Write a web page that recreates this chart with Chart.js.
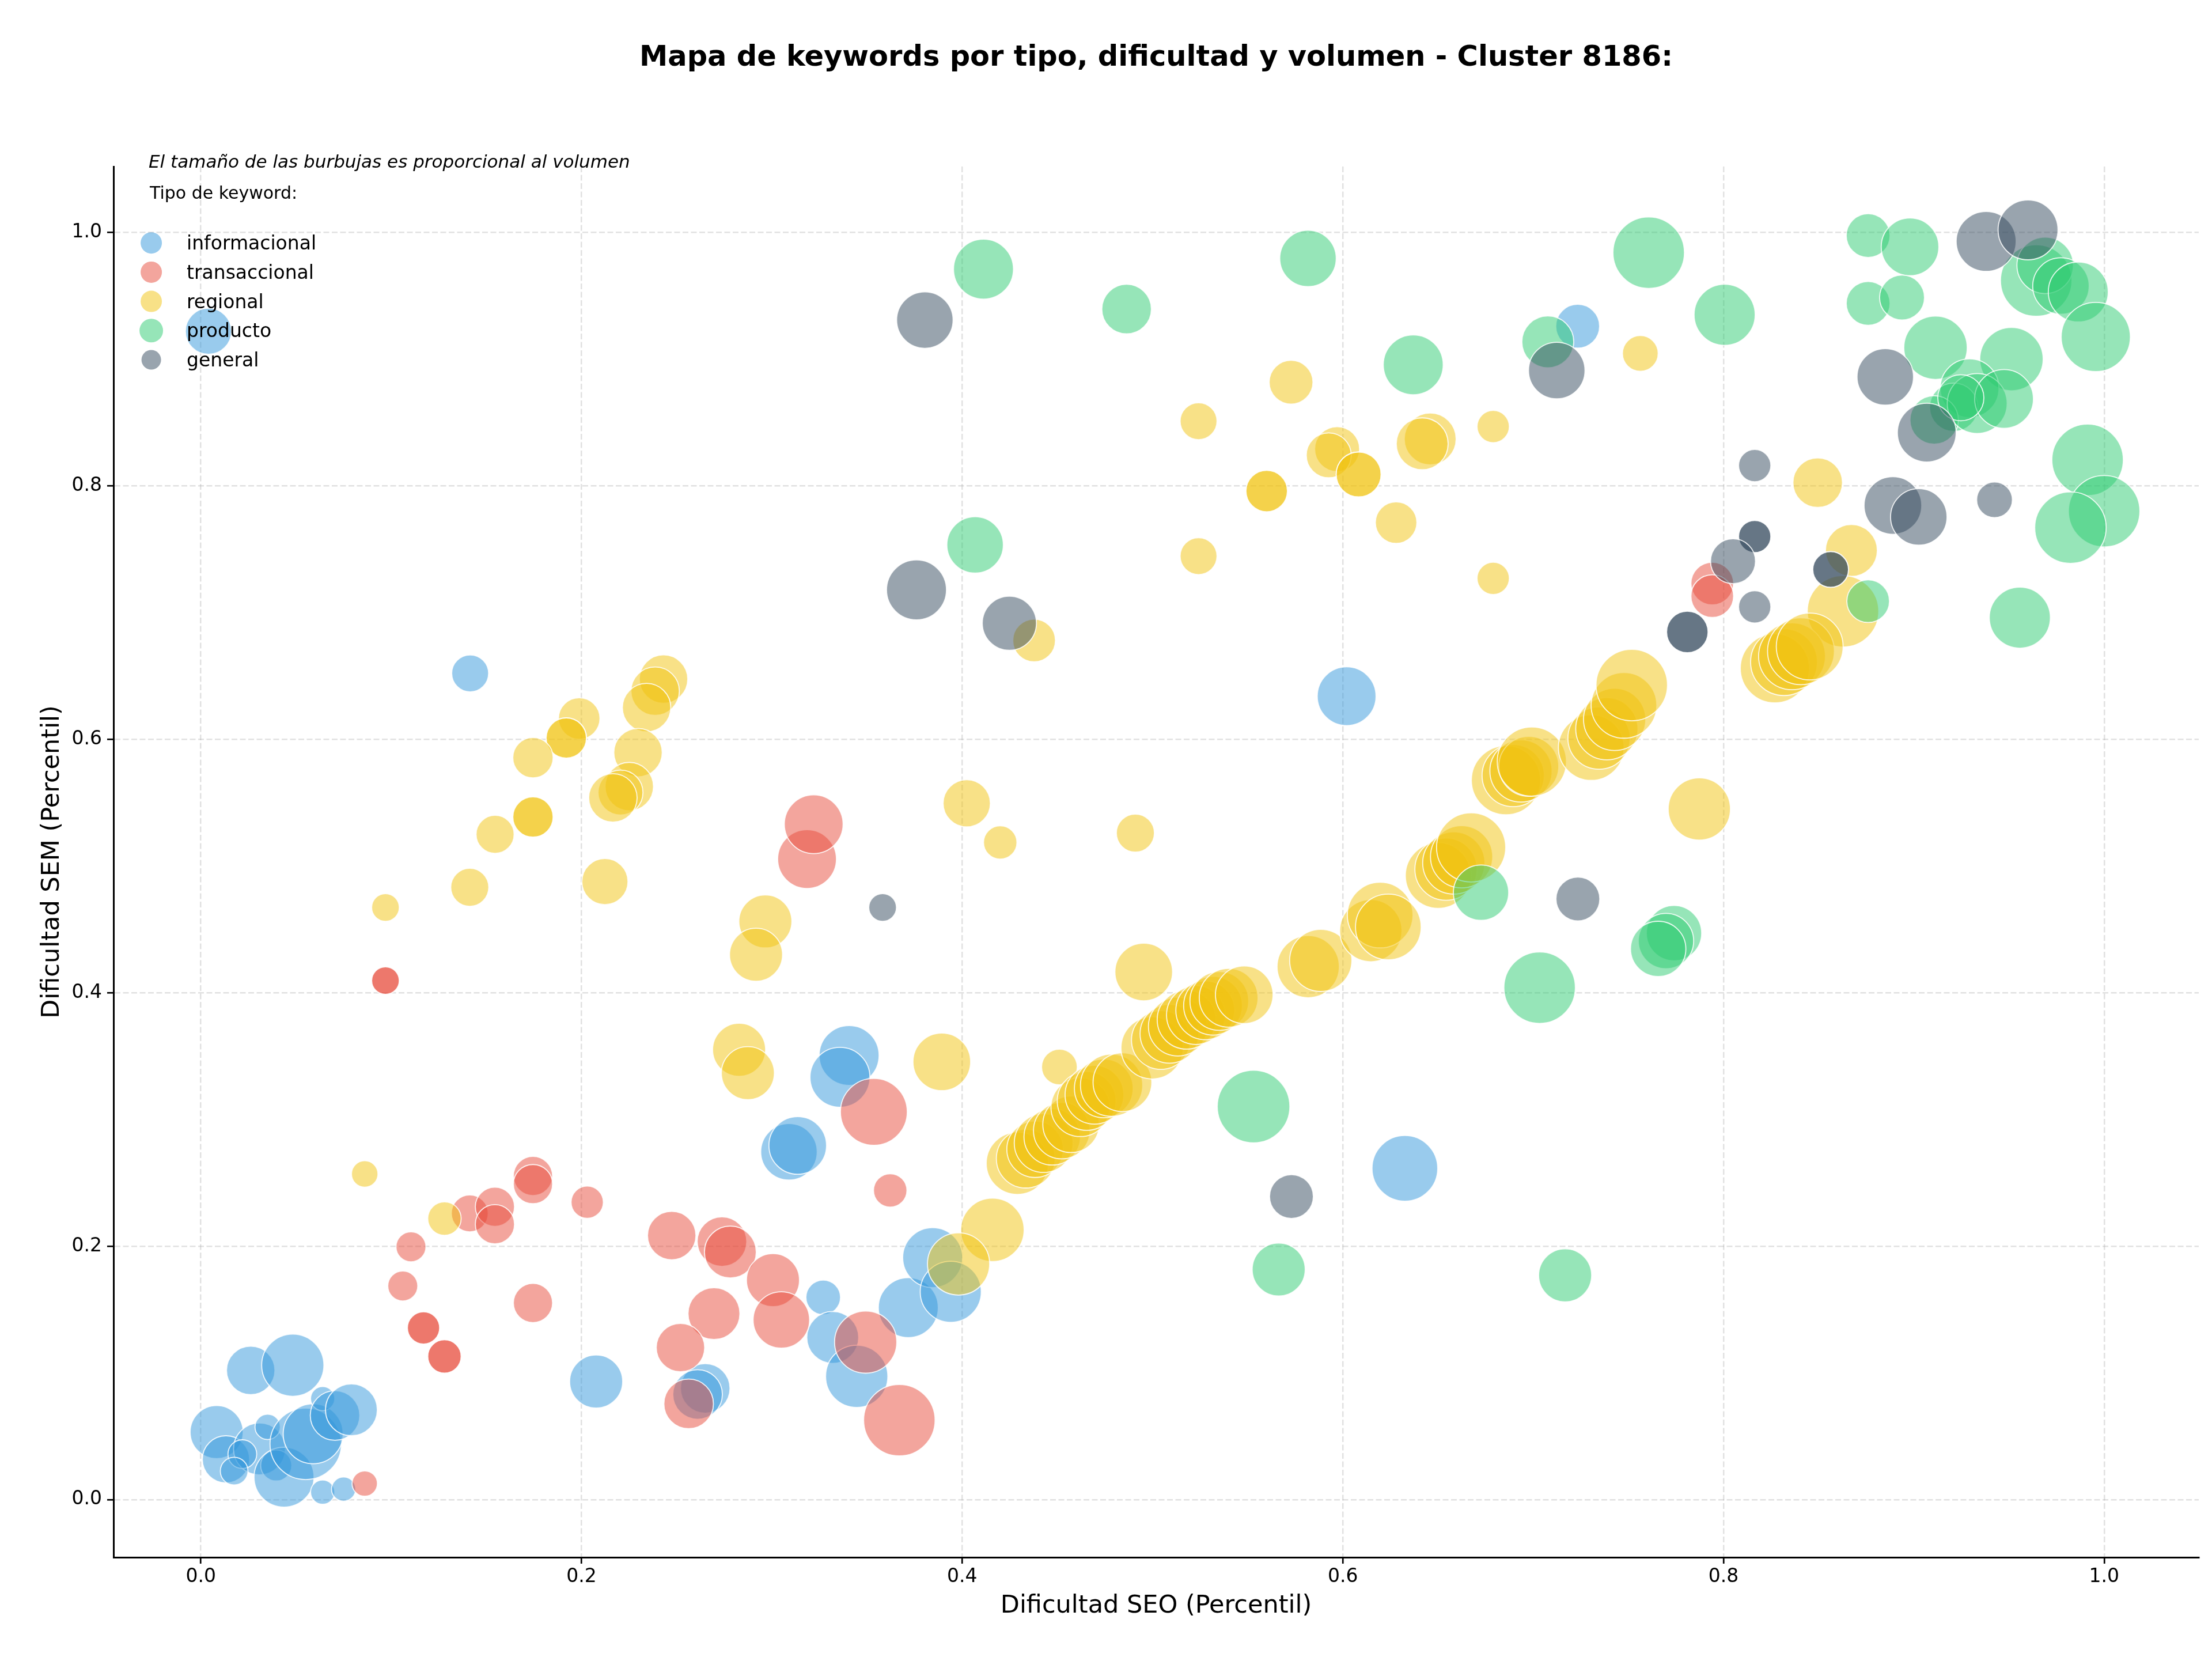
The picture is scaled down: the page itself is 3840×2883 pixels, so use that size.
<!DOCTYPE html>
<html>
<head>
<meta charset="utf-8">
<script src="https://cdn.jsdelivr.net/npm/chart.js@4.4.0/dist/chart.umd.min.js"></script>
<style>
html,body{margin:0;padding:0;background:#ffffff;}
canvas{display:block;}
</style>
</head>
<body>
<canvas id="chart" width="3840" height="2883" style="width:3840px;height:2883px"></canvas>
<script>
// ---------------- DATA ----------------
const chartTitle = 'Mapa de keywords por tipo, dificultad y volumen - Cluster 8186:';
const noteText = 'El tamaño de las burbujas es proporcional al volumen';
const legendTitle = 'Tipo de keyword:';
const xAxisTitle = 'Dificultad SEO (Percentil)';
const yAxisTitle = 'Dificultad SEM (Percentil)';
const categories = ['informacional', 'transaccional', 'regional', 'producto', 'general'];
const xTickValues = [0.0, 0.2, 0.4, 0.6, 0.8, 1.0];
const yTickValues = [0.0, 0.2, 0.4, 0.6, 0.8, 1.0];

const informacionalSEO = [0.004, 0.1415, 0.602, 0.7234, 0.6326, 0.0262, 0.0483, 0.0083, 0.0132, 0.0308, 0.0218, 0.0175, 0.0351, 0.0396, 0.0437, 0.0551, 0.059, 0.064, 0.0705, 0.0791, 0.064, 0.075, 0.2077, 0.265, 0.261, 0.327, 0.332, 0.3446, 0.3717, 0.3845, 0.394, 0.309, 0.3136, 0.3406, 0.3358];
const informacionalSEM = [0.922, 0.652, 0.634, 0.926, 0.2614, 0.102, 0.1061, 0.0533, 0.0318, 0.040, 0.0359, 0.0225, 0.0574, 0.027, 0.0177, 0.044, 0.052, 0.0797, 0.0664, 0.0709, 0.0059, 0.0083, 0.0932, 0.0878, 0.083, 0.1596, 0.128, 0.0973, 0.1515, 0.191, 0.164, 0.2745, 0.2795, 0.3505, 0.3333];
const informacionalVol = [400, 256, 650, 361, 812, 441, 729, 529, 420, 506, 156, 144, 121, 182, 676, 961, 676, 110, 462, 506, 110, 110, 529, 462, 462, 225, 506, 729, 676, 676, 702, 600, 625, 676, 676];

const transaccionalSEO = [0.0861, 0.097, 0.097, 0.1104, 0.1061, 0.117, 0.117, 0.128, 0.128, 0.1413, 0.1545, 0.1545, 0.1745, 0.1745, 0.1745, 0.203, 0.2474, 0.2738, 0.2782, 0.3006, 0.2696, 0.305, 0.252, 0.2563, 0.3493, 0.367, 0.3622, 0.3536, 0.3185, 0.322, 0.7941, 0.7941];
const transaccionalSEM = [0.0127, 0.4096, 0.4096, 0.1995, 0.1686, 0.1355, 0.1355, 0.113, 0.113, 0.2259, 0.2311, 0.2173, 0.2554, 0.249, 0.1552, 0.2347, 0.2084, 0.2036, 0.1954, 0.1732, 0.1468, 0.1418, 0.12, 0.0756, 0.1243, 0.0627, 0.244, 0.306, 0.5055, 0.533, 0.7229, 0.713];
const transaccionalVol = [121, 144, 144, 169, 169, 196, 196, 210, 210, 256, 289, 289, 289, 289, 289, 196, 441, 462, 506, 529, 506, 600, 441, 462, 729, 961, 210, 841, 650, 650, 342, 342];

const regionalSEO = [0.2431, 0.2387, 0.2342, 0.1988, 0.192, 0.192, 0.1745, 0.2297, 0.2251, 0.2205, 0.2165, 0.1745, 0.1745, 0.1546, 0.2123, 0.1413, 0.097, 0.0861, 0.128, 0.2966, 0.2917, 0.2828, 0.2874, 0.3893, 0.4511, 0.4159, 0.3981, 0.4954, 0.4024, 0.42, 0.491, 0.4378, 0.5728, 0.5242, 0.597, 0.5926, 0.6083, 0.6083, 0.560, 0.560, 0.6459, 0.6417, 0.679, 0.628, 0.5242, 0.679, 0.7563, 0.8495, 0.8672, 0.8628, 0.7873, 0.827, 0.8318, 0.836, 0.8407, 0.8453,
  0.429, 0.4334, 0.4383, 0.4428, 0.4473, 0.4523, 0.4572, 0.4621, 0.4654, 0.4695, 0.4744, 0.4785, 0.4842, 0.4998, 0.5044, 0.5089, 0.5133, 0.5179, 0.5228, 0.5277, 0.5318, 0.5351, 0.54, 0.5482, 0.5818, 0.5884, 0.6147, 0.6196, 0.6239, 0.6501, 0.6542, 0.6583, 0.6624, 0.6674, 0.6857, 0.6895, 0.6936, 0.6977, 0.6993, 0.7305, 0.7346, 0.7387, 0.7428, 0.7477, 0.7518];
const regionalSEM = [0.6475, 0.638, 0.625, 0.6164, 0.601, 0.601, 0.5855, 0.5895, 0.5627, 0.558, 0.5538, 0.5387, 0.5387, 0.525, 0.4877, 0.4832, 0.4673, 0.257, 0.2218, 0.4563, 0.43, 0.355, 0.3366, 0.3455, 0.3414, 0.2129, 0.186, 0.4164, 0.5495, 0.5186, 0.526, 0.678, 0.8818, 0.851, 0.829, 0.8241, 0.809, 0.809, 0.7959, 0.7959, 0.837, 0.8332, 0.8468, 0.771, 0.7445, 0.727, 0.9045, 0.8025, 0.749, 0.701, 0.545, 0.656, 0.6609, 0.6655, 0.6695, 0.6732,
  0.2654, 0.2691, 0.2765, 0.2814, 0.2863, 0.2912, 0.2962, 0.3097, 0.3146, 0.3195, 0.3245, 0.327, 0.3294, 0.3565, 0.3627, 0.3676, 0.3733, 0.3787, 0.3824, 0.3861, 0.3898, 0.3935, 0.396, 0.3984, 0.4206, 0.4255, 0.449, 0.4613, 0.4519, 0.4925, 0.4975, 0.5024, 0.5073, 0.5147, 0.5677, 0.5714, 0.575, 0.5787, 0.5824, 0.5935, 0.6009, 0.6083, 0.6157, 0.6268, 0.6428];
const regionalVol = [441, 441, 441, 324, 306, 306, 306, 441, 441, 380, 441, 306, 306, 272, 400, 272, 144, 132, 210, 529, 529, 529, 529, 625, 240, 756, 729, 625, 420, 210, 272, 342, 361, 256, 380, 380, 380, 380, 324, 324, 506, 506, 196, 324, 256, 196, 240, 462, 506, 961, 729, 900, 841, 841, 841, 841,
  729, 650, 600, 650, 600, 600, 600, 650, 650, 650, 650, 729, 650, 729, 650, 650, 650, 650, 650, 650, 650, 650, 650, 625, 729, 729, 729, 812, 812, 812, 729, 729, 729, 900, 900, 729, 729, 676, 900, 812, 729, 729, 729, 812, 961];

const productoSEO = [0.4112, 0.4864, 0.5817, 0.637, 0.4068, 0.7607, 0.8006, 0.7077, 0.876, 0.898, 0.876, 0.8938, 0.9114, 0.9513, 0.9643, 0.969, 0.9773, 0.9864, 0.9956, 0.9293, 0.921, 0.9107, 0.9333, 0.9474, 0.9247, 0.9913, 1.0, 0.9823, 0.9557, 0.876, 0.6726, 0.774, 0.7698, 0.7657, 0.7034, 0.5531, 0.5663, 0.7168];
const productoSEM = [0.971, 0.9395, 0.9795, 0.8955, 0.7534, 0.984, 0.935, 0.9136, 0.9975, 0.9886, 0.944, 0.9486, 0.909, 0.900, 0.962, 0.974, 0.9577, 0.953, 0.9175, 0.877, 0.862, 0.852, 0.865, 0.8686, 0.8695, 0.8205, 0.78, 0.767, 0.696, 0.709, 0.479, 0.447, 0.4408, 0.4346, 0.404, 0.3102, 0.1816, 0.177];
const productoVol = [676, 462, 600, 676, 600, 961, 702, 506, 361, 625, 361, 380, 756, 756, 961, 600, 600, 676, 900, 650, 441, 441, 676, 650, 400, 961, 961, 961, 702, 342, 576, 576, 576, 576, 961, 992, 529, 529];

const generalSEO = [0.3804, 0.376, 0.4248, 0.3582, 0.573, 0.7235, 0.7124, 0.938, 0.960, 0.885, 0.9068, 0.889, 0.9026, 0.9424, 0.8164, 0.8164, 0.8164, 0.805, 0.8164, 0.781, 0.781, 0.8563, 0.8563];
const generalSEM = [0.9308, 0.7179, 0.6916, 0.4673, 0.2392, 0.474, 0.891, 0.9929, 1.002, 0.886, 0.842, 0.7845, 0.7755, 0.789, 0.816, 0.760, 0.760, 0.7405, 0.7045, 0.6847, 0.6847, 0.734, 0.734];
const generalVol = [600, 676, 552, 144, 361, 361, 600, 676, 676, 600, 650, 625, 600, 240, 196, 196, 196, 380, 196, 324, 324, 240, 240];

// ---------------- STYLE ----------------
const baseColors = {
  informacional: [52, 152, 219],
  transaccional: [231, 76, 60],
  regional: [241, 196, 15],
  producto: [46, 204, 113],
  general: [52, 73, 94]
};
const fillAlpha = 0.5;
const legendRadii = [18.5, 18.5, 18.5, 20.5, 17];
const rgba = (c, a) => `rgba(${c[0]},${c[1]},${c[2]},${a})`;
const volToRadius = v => 2 * Math.sqrt(v);

const seriesSEO = [informacionalSEO, transaccionalSEO, regionalSEO, productoSEO, generalSEO];
const seriesSEM = [informacionalSEM, transaccionalSEM, regionalSEM, productoSEM, generalSEM];
const seriesVol = [informacionalVol, transaccionalVol, regionalVol, productoVol, generalVol];

const datasets = categories.map((cat, i) => ({
  label: cat,
  data: seriesSEO[i].map((x, j) => ({ x: x, y: seriesSEM[i][j], r: volToRadius(seriesVol[i][j]) })),
  backgroundColor: rgba(baseColors[cat], fillAlpha),
  borderColor: 'rgba(255,255,255,0.85)',
  borderWidth: 1.8,
  hoverRadius: 0,
  order: categories.length - 1 - i
}));

Chart.defaults.font.family = '"DejaVu Sans", sans-serif';
Chart.defaults.color = '#000';

const overlayPlugin = {
  id: 'overlayText',
  afterDraw(chart) {
    const ctx = chart.ctx;
    ctx.save();
    ctx.fillStyle = '#000';
    ctx.textAlign = 'left';
    ctx.textBaseline = 'alphabetic';
    ctx.font = 'italic 31px "DejaVu Sans"';
    ctx.fillText(noteText, 258, 291);
    ctx.font = '30px "DejaVu Sans"';
    ctx.fillText(legendTitle, 260, 345);
    categories.forEach((cat, i) => {
      const cy = 421.7 + i * 50.7;
      ctx.beginPath();
      ctx.arc(262.6, cy, legendRadii[i], 0, Math.PI * 2);
      ctx.fillStyle = rgba(baseColors[cat], fillAlpha);
      ctx.fill();
      ctx.fillStyle = '#000';
      ctx.font = '33px "DejaVu Sans"';
      ctx.fillText(cat, 324, cy + 11.5);
    });
    ctx.restore();
  }
};

const gridCommon = {
  color: 'rgba(176,176,176,0.38)',
  lineWidth: 2.5,
  drawTicks: true,
  tickLength: 11,
  tickColor: '#000',
  tickWidth: 2.7,
  tickBorderDash: []
};

new Chart(document.getElementById('chart'), {
  type: 'bubble',
  data: { datasets: datasets },
  options: {
    responsive: false,
    devicePixelRatio: 1,
    animation: false,
    events: [],
    layout: { autoPadding: false, padding: { top: 0, left: 0, right: 23, bottom: 0 } },
    plugins: {
      legend: { display: false },
      tooltip: { enabled: false },
      title: {
        display: true,
        text: chartTitle,
        fullSize: false,
        color: '#000',
        font: { family: '"DejaVu Sans"', size: 49.5, weight: 'bold' },
        padding: { top: 71, bottom: 158.6 }
      }
    },
    scales: {
      x: {
        type: 'linear',
        position: 'bottom',
        min: -0.0459,
        max: 1.0497,
        afterBuildTicks: (scale) => { scale.ticks = xTickValues.map(v => ({ value: v })); },
        afterFit: (scale) => { scale.height = 180; },
        ticks: {
          callback: (v) => Number(v).toFixed(1),
          font: { family: '"DejaVu Sans"', size: 33 },
          color: '#000',
          padding: 4,
          maxRotation: 0,
          autoSkip: false
        },
        grid: gridCommon,
        border: { display: true, color: '#000', width: 3, dash: [10, 4.5] },
        title: {
          display: true,
          text: xAxisTitle,
          color: '#000',
          font: { family: '"DejaVu Sans"', size: 43 },
          padding: { top: 0, bottom: 69 }
        }
      },
      y: {
        type: 'linear',
        position: 'left',
        min: -0.0455,
        max: 1.052,
        afterBuildTicks: (scale) => { scale.ticks = yTickValues.map(v => ({ value: v })); },
        afterFit: (scale) => { scale.width = 197; },
        ticks: {
          callback: (v) => Number(v).toFixed(1),
          font: { family: '"DejaVu Sans"', size: 33 },
          color: '#000',
          padding: 9,
          autoSkip: false
        },
        grid: gridCommon,
        border: { display: true, color: '#000', width: 3, dash: [10, 4.5] },
        title: {
          display: true,
          text: yAxisTitle,
          color: '#000',
          font: { family: '"DejaVu Sans"', size: 43 },
          padding: { top: 65, bottom: 0 }
        }
      }
    }
  },
  plugins: [overlayPlugin]
});
</script>
</body>
</html>
